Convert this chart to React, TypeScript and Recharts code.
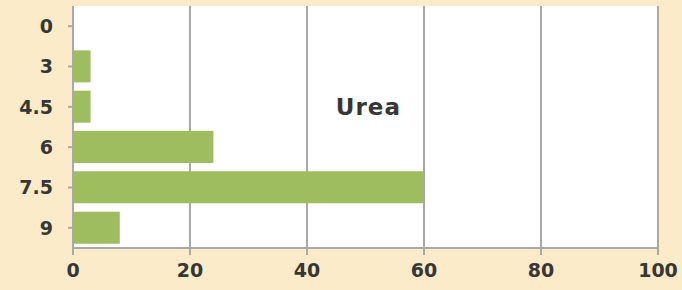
import { BarChart, Bar, XAxis, YAxis, CartesianGrid, ReferenceDot } from "recharts";

const categories = ["0", "3", "4.5", "6", "7.5", "9"];
const ureaValues = [0, 3, 3, 24, 60, 8];
const xTicks = [0, 20, 40, 60, 80, 100];

const data = categories.map((c, i) => ({ ph: c, urea: ureaValues[i] }));

const GRID = "#a9a9a9";
const TEXT = "#363636";
const tickFont = { fill: TEXT, fontSize: 19, fontWeight: 700, fontFamily: "DejaVu Sans" };

export default function App() {
  return (
    <div style={{ position: "fixed", left: 0, top: 0, width: 682, height: 290, background: "#fcebc9" }}>
      <BarChart
        width={682}
        height={290}
        data={data}
        layout="vertical"
        margin={{ top: 6, right: 24, bottom: 0, left: 0 }}
        barCategoryGap="10%"
      >
        <CartesianGrid horizontal={false} fill="#ffffff" stroke={GRID} strokeWidth={2} />
        <XAxis
          type="number"
          domain={[0, 100]}
          ticks={xTicks}
          height={42}
          stroke={GRID}
          strokeWidth={2}
          tickSize={7}
          tickMargin={9}
          tick={tickFont}
        />
        <YAxis
          type="category"
          dataKey="ph"
          width={73}
          stroke={GRID}
          strokeWidth={2}
          tickSize={5}
          tickMargin={15}
          tick={tickFont}
        />
        <Bar dataKey="urea" fill="#9dbd5f" isAnimationActive={false} />
        <ReferenceDot
          x={50.5}
          y="4.5"
          r={0}
          fill="none"
          stroke="none"
          label={{ value: "Urea", position: "center", fill: TEXT, fontSize: 23, fontWeight: 700, letterSpacing: 1, fontFamily: "DejaVu Sans" }}
        />
      </BarChart>
    </div>
  );
}
